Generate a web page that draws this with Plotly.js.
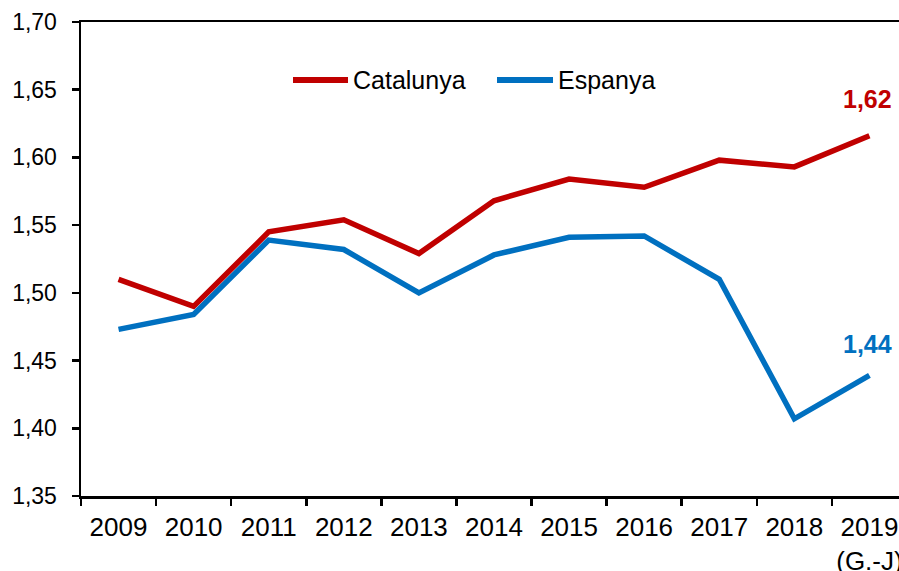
<!DOCTYPE html>
<html>
<head>
<meta charset="utf-8">
<script src="https://cdn.plot.ly/plotly-3.0.1.min.js"></script>
<style>html,body{margin:0;padding:0;background:#fff;}#chart{width:899px;height:571px;}</style>
</head>
<body>
<div id="chart"></div>
<script>
var years = ["2009","2010","2011","2012","2013","2014","2015","2016","2017","2018","2019<br>(G.-J)"];
var catalunya = [1.510, 1.490, 1.545, 1.554, 1.529, 1.568, 1.584, 1.578, 1.598, 1.593, 1.616];
var espanya   = [1.473, 1.484, 1.539, 1.532, 1.500, 1.528, 1.541, 1.542, 1.510, 1.407, 1.439];
var seriesNames = ["Catalunya", "Espanya"];
var seriesColors = ["#C00000", "#0070C0"];

var W = 899, H = 571;
var M = {l: 81, r: 0, t: 22, b: 75};
var FONT = "Liberation Sans, Arial, sans-serif";
function px2paperX(px){ return (px - M.l) / (W - M.l - M.r); }
function px2paperY(py){ return (H - M.b - py) / (H - M.t - M.b); }
function fmt(v){ return v.toFixed(2).replace(".", ","); }

var allSeries = [catalunya, espanya];
var traces = allSeries.map(function(vals, i){
  return {
    x: years, y: vals, type: "scatter", mode: "lines", name: seriesNames[i],
    line: {color: seriesColors[i], width: 5.5}, showlegend: false, hoverinfo: "skip"
  };
});

// end-value labels
var last = years.length - 1;
var annotations = [
  {x: years[last], y: catalunya[last], xref: "x", yref: "y", text: "<b>" + fmt(catalunya[last]) + "</b>",
   showarrow: false, yshift: 37, xshift: -2, font: {family: FONT, size: 25, color: seriesColors[0]}},
  {x: years[last], y: espanya[last], xref: "x", yref: "y", text: "<b>" + fmt(espanya[last]) + "</b>",
   showarrow: false, yshift: 31, xshift: -2, font: {family: FONT, size: 25, color: seriesColors[1]}}
];

// custom legend (lines + labels)
var legendItems = [{x0: 293, x1: 348, tx: 351}, {x0: 497, x1: 553, tx: 556}];
var legendY = 80;
var shapes = [];
legendItems.forEach(function(it, i){
  shapes.push({type: "line", xref: "paper", yref: "paper",
    x0: px2paperX(it.x0), x1: px2paperX(it.x1), y0: px2paperY(legendY), y1: px2paperY(legendY),
    line: {color: seriesColors[i], width: 6}});
  annotations.push({xref: "paper", yref: "paper", x: px2paperX(it.tx), y: px2paperY(legendY),
    xanchor: "left", yanchor: "middle", text: seriesNames[i], showarrow: false,
    font: {family: FONT, size: 25, color: "#000"}});
});

var layout = {
  width: W, height: H,
  margin: M,
  paper_bgcolor: "#fff", plot_bgcolor: "#fff",
  separators: ",.",
  showlegend: false,
  font: {family: FONT, color: "#000"},
  xaxis: {
    type: "category", range: [-0.5, 10.394],
    showline: true, linecolor: "#000", linewidth: 2.5, mirror: true,
    ticks: "outside", tickson: "boundaries", ticklen: 7, tickwidth: 2.5, tickcolor: "#000",
    ticklabelstandoff: 6,
    showgrid: false, zeroline: false,
    tickfont: {family: FONT, size: 26, color: "#000"}
  },
  yaxis: {
    range: [1.35, 1.70], dtick: 0.05, tick0: 1.35, tickformat: ".2f",
    showline: true, linecolor: "#000", linewidth: 2.5,
    ticks: "outside", ticklen: 7, tickwidth: 2.5, tickcolor: "#000",
    ticklabelstandoff: 10,
    showgrid: false, zeroline: false,
    tickfont: {family: FONT, size: 23, color: "#000"}
  },
  shapes: shapes,
  annotations: annotations
};

Plotly.newPlot("chart", traces, layout, {staticPlot: true, displayModeBar: false});
</script>
</body>
</html>
